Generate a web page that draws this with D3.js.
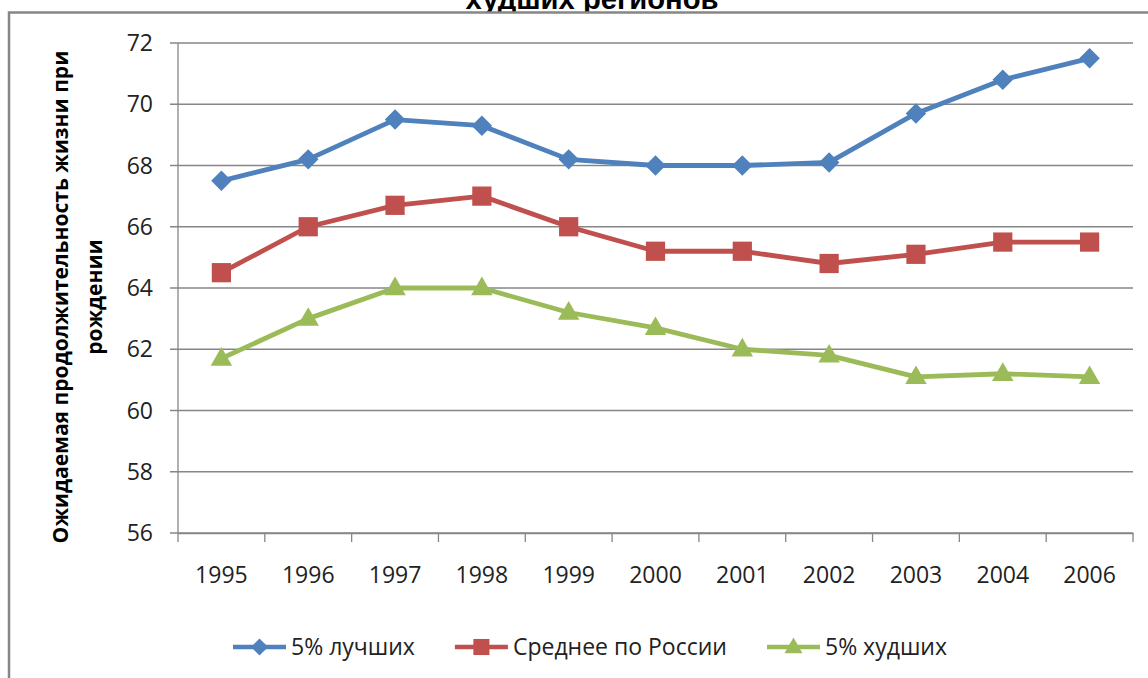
<!DOCTYPE html>
<html>
<head>
<meta charset="utf-8">
<script src="https://cdn.jsdelivr.net/npm/d3@7"></script>
<style>
  body { margin: 0; background: #fff; }
  svg { display: block; }
</style>
</head>
<body>
<svg width="1148" height="678"></svg>
<script>
var years = ["1995", "1996", "1997", "1998", "1999", "2000", "2001", "2002", "2003", "2004", "2006"];
var best5 = [67.5, 68.2, 69.5, 69.3, 68.2, 68.0, 68.0, 68.1, 69.7, 70.8, 71.5];   // 5% лучших
var russiaAvg = [64.5, 66.0, 66.7, 67.0, 66.0, 65.2, 65.2, 64.8, 65.1, 65.5, 65.5]; // Среднее по России
var worst5 = [61.7, 63.0, 64.0, 64.0, 63.2, 62.7, 62.0, 61.8, 61.1, 61.2, 61.1];  // 5% худших
var yTicks = [56, 58, 60, 62, 64, 66, 68, 70, 72];
var seriesNames = ["5% лучших", "Среднее по России", "5% худших"];
var lineColors = ["#4F81BD", "#C0504D", "#9BBB59"];

var tickFont = "'Open Sans', sans-serif";
var gridColor = "#868686";

var svg = d3.select("svg");

// title (only its last line is visible in the picture)
var title = svg.append("text")
  .attr("x", 592)
  .attr("y", 9)
  .attr("text-anchor", "middle")
  .attr("font-family", "'Liberation Sans', Arial, sans-serif")
  .attr("font-weight", "bold")
  .attr("font-size", 28)
  .attr("fill", "#000")
  .text("худших регионов");
var tw = title.node().getComputedTextLength();
title.attr("font-size", 28 * 253 / tw);

// chart frame
svg.append("rect")
  .attr("x", 9)
  .attr("y", 12.5)
  .attr("width", 1200)
  .attr("height", 700)
  .attr("fill", "#fff")
  .attr("stroke", gridColor)
  .attr("stroke-width", 2.5);

var margin = {top: 43, left: 178, right: 1133, bottom: 533};

var x = d3.scaleBand().domain(years).range([margin.left, margin.right]).padding(0);
var y = d3.scaleLinear().domain([56, 72]).range([margin.bottom, margin.top]);

// gridlines + y ticks
svg.append("g")
  .selectAll("line")
  .data(yTicks)
  .enter().append("line")
  .attr("x1", margin.left - 8)
  .attr("x2", margin.right)
  .attr("y1", function(d) { return y(d); })
  .attr("y2", function(d) { return y(d); })
  .attr("stroke", gridColor)
  .attr("stroke-width", 1.3);

svg.append("g")
  .selectAll("text")
  .data(yTicks)
  .enter().append("text")
  .attr("x", 153)
  .attr("y", function(d) { return y(d); })
  .attr("dy", "0.35em")
  .attr("text-anchor", "end")
  .attr("font-family", tickFont)
  .attr("font-size", 23)
  .attr("fill", "#222")
  .text(function(d) { return d; });

// y axis line
svg.append("line")
  .attr("x1", margin.left).attr("x2", margin.left)
  .attr("y1", margin.top).attr("y2", margin.bottom)
  .attr("stroke", gridColor)
  .attr("stroke-width", 1.3);

// x axis
var xAxis = d3.axisBottom(x).tickSize(0).tickPadding(34);
var gx = svg.append("g")
  .attr("transform", "translate(0," + margin.bottom + ")")
  .call(xAxis);
gx.select(".domain").attr("stroke", gridColor).attr("stroke-width", 1.3);
gx.selectAll(".tick text")
  .attr("font-family", tickFont)
  .attr("font-size", 23)
  .attr("fill", "#222");

var bounds = years.map(function(d) { return x(d); }).concat([margin.right]);
gx.selectAll(".bound")
  .data(bounds)
  .enter().append("line")
  .attr("x1", function(d) { return d; })
  .attr("x2", function(d) { return d; })
  .attr("y1", 0)
  .attr("y2", 9)
  .attr("stroke", gridColor)
  .attr("stroke-width", 1.3);

// y axis title, two lines
var ylab1 = svg.append("text")
  .attr("transform", "translate(61,297) rotate(-90)")
  .attr("text-anchor", "middle")
  .attr("dy", "0.35em")
  .attr("font-family", "'Open Sans', sans-serif")
  .attr("font-weight", "bold")
  .attr("font-size", 22)
  .attr("fill", "#000")
  .text("Ожидаемая продолжительность жизни при");
var lw = ylab1.node().getComputedTextLength();
var labSize = 22 * 493 / lw;
ylab1.attr("font-size", labSize);
svg.append("text")
  .attr("transform", "translate(95,297) rotate(-90)")
  .attr("text-anchor", "middle")
  .attr("dy", "0.35em")
  .attr("font-family", "'Open Sans', sans-serif")
  .attr("font-weight", "bold")
  .attr("font-size", labSize)
  .attr("fill", "#000")
  .text("рождении");

// lines and markers
var allSeries = [best5, russiaAvg, worst5];
var symbols = [
  {type: d3.symbolSquare, size: 210, rot: 45},
  {type: d3.symbolSquare, size: 370, rot: 0},
  {type: d3.symbolTriangle, size: 200, rot: 0}
];

var line = d3.line()
  .x(function(d, i) { return x(years[i]) + x.bandwidth() / 2; })
  .y(function(d) { return y(d); });

allSeries.forEach(function(vals, s) {
  svg.append("path")
    .datum(vals)
    .attr("d", line)
    .attr("fill", "none")
    .attr("stroke", lineColors[s])
    .attr("stroke-width", 4.8)
    .attr("stroke-linejoin", "round");

  svg.append("g")
    .selectAll("path")
    .data(vals)
    .enter().append("path")
    .attr("d", d3.symbol().type(symbols[s].type).size(symbols[s].size))
    .attr("transform", function(d, i) {
      return "translate(" + (x(years[i]) + x.bandwidth() / 2) + "," + (y(d) + (s == 2 ? 1 : 0)) + ") rotate(" + symbols[s].rot + ")";
    })
    .attr("fill", lineColors[s]);
});

// legend
var legend = svg.append("g").attr("transform", "translate(0,647)");
var lx = 233;
seriesNames.forEach(function(name, s) {
  legend.append("line")
    .attr("x1", lx).attr("x2", lx + 53)
    .attr("y1", 0).attr("y2", 0)
    .attr("stroke", lineColors[s])
    .attr("stroke-width", 4.5);
  legend.append("path")
    .attr("d", d3.symbol().type(symbols[s].type).size(symbols[s].size * 0.7))
    .attr("transform", "translate(" + (lx + 26.5) + "," + (s == 2 ? 1 : 0) + ") rotate(" + symbols[s].rot + ")")
    .attr("fill", lineColors[s]);
  var t = legend.append("text")
    .attr("x", lx + 58)
    .attr("y", 0)
    .attr("dy", "0.35em")
    .attr("font-family", tickFont)
    .attr("font-size", 23)
    .attr("fill", "#222")
    .text(name);
  lx = lx + 58 + t.node().getComputedTextLength() + 40;
});
</script>
</body>
</html>
